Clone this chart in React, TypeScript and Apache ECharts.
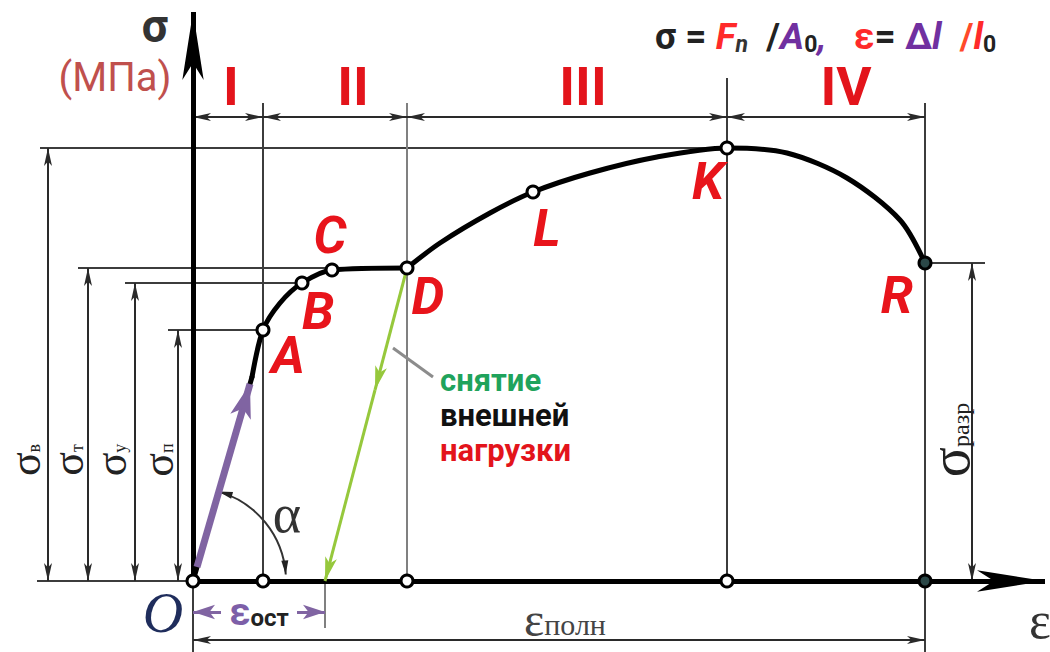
import React, { useEffect, useRef } from 'react';
import * as echarts from 'echarts';

// ---------- data (schematic units: ε along x, σ along y, origin at O) ----------
const elasticPart: [number, number][] = [[0, 0], [59, 204]];
const yieldPart: [number, number][] = [
  [59, 204], [70, 251], [87, 278], [109, 298], [139, 311], [214, 313],
];
const hardeningPart: [number, number][] = [
  [214, 313], [247, 338], [297, 368], [340, 389], [397, 408], [464, 424], [534, 433],
  [594, 428], [654, 403], [707, 361], [732, 318],
];
const pointNames = ['A', 'B', 'C', 'D', 'L', 'K', 'R'];
const pointValues: [number, number][] = [
  [70, 251], [109, 298], [139, 311], [214, 313], [340, 389], [534, 433], [732, 318],
];
const residualStrain = 132; // ε_ост
const unloadArrowAt: [number, number] = [182, 191];
const regionLabels = ['I', 'II', 'III', 'IV'];

// ---------- derived ----------
const P: Record<string, [number, number]> = {};
pointNames.forEach((n, i) => (P[n] = pointValues[i]));
const regionBounds = [0, P.A[0], P.D[0], P.K[0], P.R[0]];
const axisMarks: [number, number][] = regionBounds.map((x) => [x, 0]);

const labelOffsets: Record<string, [number, number]> = {
  A: [25, 25], B: [16, 28], C: [-2, -35], D: [21, 28], L: [14, 36], K: [-19, 33], R: [-28, 32],
};

type Seg = [[number, number], [number, number]];

function ml(
  lines: Seg[], color: string, width: number,
  ends: [string, string], size: [number, number], tipOffset: number, z = 3,
) {
  const end = (coord: [number, number], sym: string) => ({
    coord, symbol: sym, symbolSize: size, symbolOffset: [0, tipOffset],
  });
  return {
    type: 'line',
    data: [],
    silent: true,
    z,
    markLine: {
      silent: true,
      animation: false,
      z,
      symbol: ends,
      symbolSize: size,
      label: { show: false },
      emphasis: { disabled: true },
      itemStyle: { color },
      lineStyle: { color, width, type: 'solid', opacity: 1 },
      data: lines.map(([a, b]) => [end(a, ends[0]), end(b, ends[1])]),
    },
  };
}

const curveSeries = (data: [number, number][], smooth: number | boolean) => ({
  type: 'line', data, symbol: 'none', smooth, z: 5, silent: true,
  lineStyle: { color: '#000', width: 5, cap: 'round', join: 'round' },
});

export default function App() {
  const ref = useRef<HTMLDivElement>(null);
  useEffect(() => {
    const chart = echarts.init(ref.current!, undefined, { renderer: 'svg' });
    const topY = 478;
    const regionY = 464;
    const thin: Seg[] = [
      [[-153, P.K[1]], P.K],
      [[-115, P.D[1]], P.D],
      [[-68, P.B[1]], P.B],
      [[-25, P.A[1]], P.A],
      [P.R, [792, P.R[1]]],
      [[-156, 0], [0, 0]],
      [[P.A[0], 0], [P.A[0], topY]],
      [[P.K[0], 0], [P.K[0], 503]],
      [[P.R[0], -71], [P.R[0], topY]],
      [[0, 0], [0, -71]],
    ];
    const grayThin: Seg[] = [
      [[P.D[0], 0], [P.D[0], topY]],
      [[residualStrain, 0], [residualStrain, -47]],
    ];
    const dims: Seg[] = [
      [[-145, 0], [-145, P.K[1]]],
      [[-105, 0], [-105, P.D[1]]],
      [[-58, 0], [-58, P.B[1]]],
      [[-15, 0], [-15, P.A[1]]],
      [[779, 0], [779, P.R[1]]],
      [[regionBounds[0], regionY], [regionBounds[1], regionY]],
      [[regionBounds[1], regionY], [regionBounds[2], regionY]],
      [[regionBounds[2], regionY], [regionBounds[3], regionY]],
      [[regionBounds[3], regionY], [regionBounds[4], regionY]],
      [[0, -59], [P.R[0], -59]],
    ];
    const option: any = {
      animation: false,
      backgroundColor: '#ffffff',
      grid: { left: 0, right: 0, top: 0, bottom: 0, containLabel: false },
      xAxis: { type: 'value', min: -193, max: 857, show: false },
      yAxis: { type: 'value', min: -71, max: 581, show: false },
      series: [
        ml(thin, '#3c3c3c', 2, ['none', 'none'], [1, 1], 0, 2),
        ml(grayThin, '#808080', 2, ['none', 'none'], [1, 1], 0, 2),
        ml(dims, '#2a2a2a', 2, ['arrow', 'arrow'], [6, 18], 0, 3),
        // axes
        ml([[[0, 0], [852, 0]], [[0, 0], [0, 569]]], '#000000', 5, ['none', 'arrow'], [16, 68], 0, 6),
        // unloading (green)
        ml([[P.D, unloadArrowAt], [unloadArrowAt, [residualStrain, 0]]], '#96c83c', 3, ['none', 'arrow'], [9, 24], 0, 7),
        // loading arrow (purple)
        ml([[[4, 14], [57, 197]]], '#8064a2', 7, ['none', 'arrow'], [16, 34], 0, 8),
        // ε_ост arrows (purple)
        ml([[[28, -31], [0, -31]], [[residualStrain - 28, -31], [residualStrain, -31]]], '#8064a2', 3, ['none', 'arrow'], [11, 22], 0, 8),
        // leader line
        ml([[[200, 233], [240, 204]]], '#8c8c8c', 3, ['none', 'none'], [1, 1], 0, 3),
        curveSeries(elasticPart, false),
        curveSeries(yieldPart, 0.3),
        curveSeries(hardeningPart, 0.3),
        {
          type: 'scatter', z: 10, silent: true,
          symbol: 'circle', symbolSize: 12,
          itemStyle: { color: '#ffffff', borderColor: '#000', borderWidth: 3, opacity: 1 },
          data: axisMarks.map((v, i) => ({
            value: v,
            itemStyle: i === 4 ? { color: '#2b4747' } : undefined,
          })),
        },
        {
          type: 'scatter', z: 11, silent: true,
          symbol: 'circle', symbolSize: 12,
          itemStyle: { color: '#ffffff', borderColor: '#000', borderWidth: 3, opacity: 1 },
          label: {
            show: true, position: 'inside', formatter: '{b}',
            color: '#e8141b', fontFamily: 'Roboto', fontWeight: 'bold', fontStyle: 'italic', fontSize: 52,
          },
          data: pointNames.map((n, i) => ({
            name: n,
            value: pointValues[i],
            label: { offset: labelOffsets[n] },
            itemStyle: n === 'R' ? { color: '#2b4747' } : undefined,
          })),
        },
      ],
    };
    chart.setOption(option);

    const px = (x: number, y: number) => chart.convertToPixel({ gridIndex: 0 }, [x, y]) as number[];
    const txt = (x: number, y: number, style: any, extra: any = {}) => {
      const p = px(x, y);
      return { type: 'text', x: p[0], y: p[1], z: 20, silent: true, style: { align: 'center', verticalAlign: 'middle', ...style }, ...extra };
    };
    const serif = 'Liberation Serif';
    const sigmaLabel = (x: number, y: number, sub: string, big = 44, small = 18) =>
      txt(x, y, {
        text: `{s|σ}{b|${sub}}`,
        rich: {
          s: { fontFamily: serif, fontSize: big, fill: '#222', lineHeight: Math.round(big * 0.8) },
          b: { fontFamily: serif, fontSize: small, fill: '#222', verticalAlign: 'bottom', lineHeight: small },
        },
      }, { rotation: Math.PI / 2 });

    const O = px(0, 0);
    const r = 93;
    const th0 = (-74 * Math.PI) / 180;
    const th1 = (-4 * Math.PI) / 180;
    const arrowHead = (th: number, dirSign: number) => {
      const tip = [O[0] + r * Math.cos(th), O[1] + r * Math.sin(th)];
      const T = [-Math.sin(th), Math.cos(th)];
      const N = [Math.cos(th), Math.sin(th)];
      const L = 14, W = 3.5;
      const bc = [tip[0] - dirSign * L * T[0], tip[1] - dirSign * L * T[1]];
      return [tip, [bc[0] + W * N[0], bc[1] + W * N[1]], [bc[0] - W * N[0], bc[1] - W * N[1]]];
    };

    const purple = '#7030a0';
    const fBig = 37, fSub = 23;
    const R = 'Roboto';
    const graphic: any[] = [
      txt(-38, 555, { text: 'σ', fontFamily: R, fontWeight: 'bold', fontSize: 46, fill: '#333', lineHeight: 30 }),
      txt(-78, 504, { text: '(МПа)', fontFamily: R, fontSize: 40, fill: '#c0504d', lineHeight: 40 }),
      txt(462, 545, {
        align: 'left',
        text: '{k|σ = }{fi|F}{ns|n}{k|  /}{pi|A}{sub|0}{pi|,}{k|   }{re|ε}{k|= }{p|Δ}{pi|l}{r|  /}{ri|l}{sub|0}',
        rich: {
          k: { fontFamily: R, fontWeight: 'bold', fontSize: fBig, fill: '#222', lineHeight: 40 },
          fi: { fontFamily: R, fontWeight: 'bold', fontStyle: 'italic', fontSize: fBig, fill: '#ff2a2a', lineHeight: 40 },
          ns: { fontFamily: R, fontWeight: 'bold', fontStyle: 'italic', fontSize: fSub, fill: '#333', verticalAlign: 'bottom', lineHeight: 22 },
          pi: { fontFamily: R, fontWeight: 'bold', fontStyle: 'italic', fontSize: fBig, fill: purple, lineHeight: 40 },
          p: { fontFamily: R, fontWeight: 'bold', fontSize: fBig, fill: purple, lineHeight: 40 },
          sub: { fontFamily: R, fontWeight: 'bold', fontSize: fSub, fill: '#222', verticalAlign: 'bottom', lineHeight: 22 },
          re: { fontFamily: R, fontWeight: 'bold', fontSize: fBig, fill: '#ff2a2a', lineHeight: 40 },
          r: { fontFamily: R, fontWeight: 'bold', fontSize: fBig, fill: '#ff4a2a', lineHeight: 40 },
          ri: { fontFamily: R, fontWeight: 'bold', fontStyle: 'italic', fontSize: fBig, fill: '#ff2a2a', lineHeight: 40 },
        },
      }),
      ...regionLabels.map((t, i) =>
        txt((regionBounds[i] + regionBounds[i + 1]) / 2 + [3, 18, 16, 20][i], 495, {
          text: t, fontFamily: R, fontWeight: 'bold', fontSize: 54, fill: '#e3141b', lineHeight: 44,
        })
      ),
      sigmaLabel(-168, 121, 'в'),
      sigmaLabel(-125, 121, 'т'),
      sigmaLabel(-82, 121, 'у'),
      sigmaLabel(-35, 121, 'п'),
      sigmaLabel(757, 141, 'разр', 56, 24),
      txt(247, 166, {
        align: 'left',
        text: '{g|снятие}\n{b|внешней}\n{r|нагрузки}',
        rich: {
          g: { fontFamily: R, fontWeight: 'bold', fontSize: 31, lineHeight: 35, fill: '#1fa35c' },
          b: { fontFamily: R, fontWeight: 'bold', fontSize: 31, lineHeight: 35, fill: '#111' },
          r: { fontFamily: R, fontWeight: 'bold', fontSize: 31, lineHeight: 35, fill: '#e3141b' },
        },
      }),
      txt(94, 67, { text: 'α', fontFamily: serif, fontSize: 54, fill: '#333' }),
      txt(-30, -32, { text: 'O', fontFamily: serif, fontStyle: 'italic', fontSize: 56, fill: '#1f2d5c' }),
      txt(847, -39, { text: 'ε', fontFamily: serif, fontSize: 52, fill: '#333' }),
      txt(372, -38, {
        text: '{e|ε}{s|полн}',
        rich: {
          e: { fontFamily: serif, fontSize: 48, fill: '#444', lineHeight: 40 },
          s: { fontFamily: serif, fontSize: 30, fill: '#444', verticalAlign: 'bottom', lineHeight: 30 },
        },
      }),
      txt(66, -31, {
        text: '{e|ε}{s|ост}',
        rich: {
          e: { fontFamily: R, fontWeight: 'bold', fontSize: 38, fill: '#7d5fa8', lineHeight: 36 },
          s: { fontFamily: R, fontWeight: 'bold', fontSize: 24, fill: '#222', verticalAlign: 'bottom', lineHeight: 24 },
        },
      }),
      {
        type: 'arc', z: 4, silent: true,
        shape: { cx: O[0], cy: O[1], r, startAngle: th0, endAngle: th1, clockwise: true },
        style: { stroke: '#333', lineWidth: 2, fill: 'none' },
      },
      { type: 'polygon', z: 4, silent: true, shape: { points: arrowHead(th0, -1) }, style: { fill: '#222' } },
      { type: 'polygon', z: 4, silent: true, shape: { points: arrowHead(th1, 1) }, style: { fill: '#222' } },
    ];
    chart.setOption({ graphic });
    return () => chart.dispose();
  }, []);
  return <div ref={ref} style={{ position: 'absolute', left: 0, top: 0, width: 1050, height: 652, background: '#fff' }} />;
}
